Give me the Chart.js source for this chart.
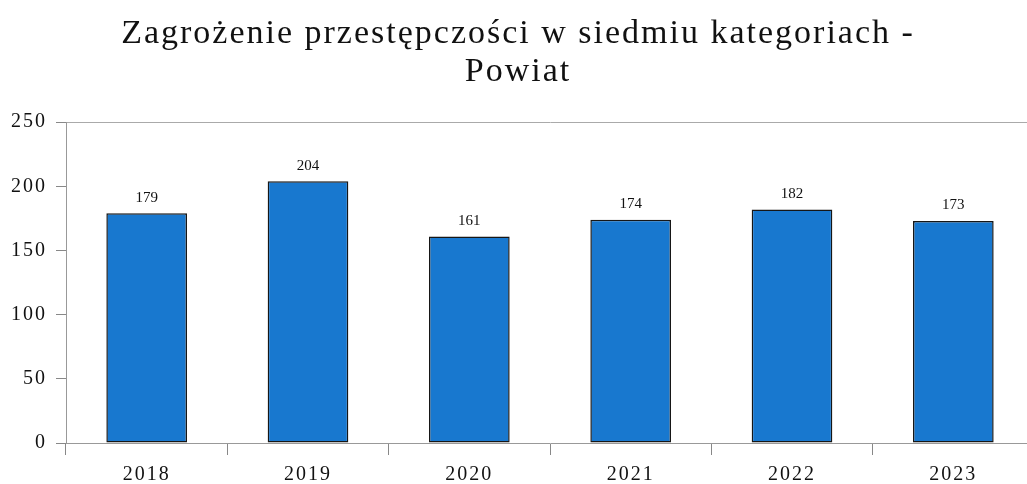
<!DOCTYPE html>
<html>
<head>
<meta charset="utf-8">
<script src="https://cdn.jsdelivr.net/npm/chart.js@4/dist/chart.umd.min.js"></script>
<style>
  html, body { margin: 0; padding: 0; background: #fff; overflow: hidden; }
  #wrap { width: 1034px; height: 495px; }
</style>
</head>
<body>
<div id="wrap"><canvas id="grafica"></canvas></div>
<script>
// Dane wykresu
const lata = ["2018", "2019", "2020", "2021", "2022", "2023"];
const wartosci = [179, 204, 161, 174, 182, 173];
const tytul = ["Zagrożenie przestępczości w siedmiu kategoriach -", "Powiat"];

// Rozstrzelone litery jak w oryginale (canvas letterSpacing)
const odstepLiter = {
    id: "odstep",
    beforeLayout(chart) { chart.ctx.letterSpacing = "2px"; },
    beforeDraw(chart) { chart.ctx.letterSpacing = "2px"; }
};

// Etykiety nad słupkami
const etykietyNadSlupkami = {
    id: "etykiety",
    afterDatasetsDraw(chart) {
        const ctx = chart.ctx;
        ctx.save();
        ctx.letterSpacing = "0px";
        ctx.font = "15px 'Liberation Serif'";
        ctx.fillStyle = "#111";
        ctx.textAlign = "center";
        ctx.textBaseline = "bottom";
        chart.getDatasetMeta(0).data.forEach((bar, i) => {
            ctx.fillText(wartosci[i], bar.x, bar.y - 8);
        });
        ctx.restore();
    }
};

const $grafica = document.querySelector("#grafica");

new Chart($grafica, {
    type: "bar",
    data: {
        labels: lata,
        datasets: [{
            data: wartosci,
            backgroundColor: "#1878cf",
            borderColor: "#161616",
            borderWidth: 1.5,
            borderSkipped: false,
            barPercentage: 0.5,
            categoryPercentage: 1.0
        }]
    },
    options: {
        responsive: true,
        maintainAspectRatio: false,
        animation: false,
        layout: { padding: { left: 2, right: 0, top: 8, bottom: 0 } },
        plugins: {
            legend: { display: false },
            tooltip: { enabled: false },
            title: {
                display: true,
                text: tytul,
                color: "#111",
                font: { family: "'Liberation Serif'", size: 34, weight: "normal", lineHeight: 1.12 },
                padding: { top: 7, bottom: 31 }
            }
        },
        scales: {
            x: {
                grid: {
                    offset: true,
                    drawOnChartArea: false,
                    drawTicks: true,
                    tickLength: 12,
                    tickColor: "#888"
                },
                border: { color: "#999", width: 1 },
                ticks: {
                    color: "#111",
                    padding: 8,
                    font: { family: "'Liberation Serif'", size: 20 }
                }
            },
            y: {
                min: 0,
                max: 250,
                ticks: {
                    stepSize: 50,
                    color: "#111",
                    padding: 9,
                    font: { family: "'Liberation Serif'", size: 20 }
                },
                grid: {
                    color: (c) => (c.tick && c.tick.value === 250) ? "#aaa" : "rgba(0,0,0,0)",
                    tickColor: "#888",
                    tickLength: 10,
                    lineWidth: 1
                },
                border: { color: "#999", width: 1 }
            }
        }
    },
    plugins: [odstepLiter, etykietyNadSlupkami]
});
</script>
</body>
</html>
